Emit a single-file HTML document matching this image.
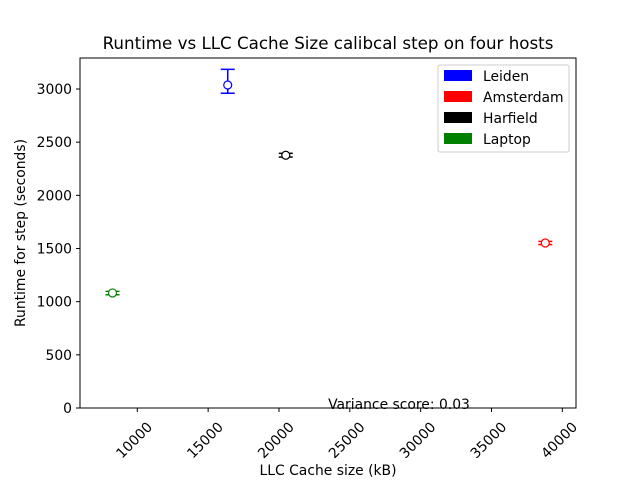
<!DOCTYPE html>
<html><head><meta charset="utf-8"><style>
body{margin:0;background:#fff}
svg{display:block;font-family:"DejaVu Sans","Liberation Sans",sans-serif}
</style></head><body>
<svg id="chart" width="640" height="480" viewBox="0 0 640 480">
<rect width="640" height="480" fill="#fff"/>
<text x="328" y="49" font-size="16.7" text-anchor="middle">Runtime vs LLC Cache Size calibcal step on four hosts</text>
<g id="ticks"></g>
<g id="marks"></g>
<rect x="80" y="58" width="496" height="350" fill="none" stroke="#000" stroke-width="1"/>
<text x="399" y="409" font-size="13.9" text-anchor="middle">Variance score: 0.03</text>
<text x="328" y="475" font-size="13.9" text-anchor="middle">LLC Cache size (kB)</text>
<text transform="translate(25,233) rotate(-90)" font-size="13.9" text-anchor="middle">Runtime for step (seconds)</text>
<g>
<rect x="438" y="65" width="131" height="87" fill="#fff" stroke="#ccc" rx="2"/>
<g id="legend"></g>
</g>
</svg>
<script>
const hosts=["Leiden","Amsterdam","Harfield","Laptop"];
const colors=["#0000ff","#ff0000","#000000","#008000"];
const cacheKB=[16384,38800,20480,8250];
const runtime=[3038,1552,2377,1082];
const errLow=[2960,1537,2360,1065];
const errHigh=[3185,1567,2395,1097];
const xTicks=[10000,15000,20000,25000,30000,35000,40000];
const yTicks=[0,500,1000,1500,2000,2500,3000];
const X=v=>137.3+(v-10000)*425/30000;
const Y=v=>408-v*0.10633;
const NS="http://www.w3.org/2000/svg";
function mk(t,a,p){const e=document.createElementNS(NS,t);for(const k in a)e.setAttribute(k,a[k]);p.appendChild(e);return e;}
const tg=document.getElementById('ticks');
xTicks.forEach(v=>{
 const l=mk('line',{x1:X(v),x2:X(v),y1:408,y2:412,stroke:'#000'},tg);
 
 
 const ax=X(v)+9,ay=421;
 const t=mk('text',{x:ax,y:ay,'font-size':13.9,'text-anchor':'end',transform:`rotate(-45 ${ax} ${ay})`,dy:'0.7em'},tg);
 t.textContent=v;
 
 
});
yTicks.forEach(v=>{
 const l=mk('line',{x1:76,x2:80,y1:Y(v),y2:Y(v),stroke:'#000'},tg);
 
 
 const t=mk('text',{x:72,y:Y(v)+5,'font-size':13.9,'text-anchor':'end'},tg);
 t.textContent=v;
 
 
});
const mg=document.getElementById('marks');
hosts.forEach((h,i)=>{
 const g=mk('g',{},mg);
 
 
 const x=X(cacheKB[i]),c=colors[i];
 mk('line',{x1:x,x2:x,y1:Y(errHigh[i]),y2:Y(errLow[i]),stroke:c,'stroke-width':1.5},g);
 mk('line',{x1:x-7,x2:x+7,y1:Y(errHigh[i]),y2:Y(errHigh[i]),stroke:c,'stroke-width':1.5},g);
 mk('line',{x1:x-7,x2:x+7,y1:Y(errLow[i]),y2:Y(errLow[i]),stroke:c,'stroke-width':1.5},g);
 mk('circle',{cx:x,cy:Y(runtime[i]),r:4,fill:'#fff',stroke:c,'stroke-width':1.2},g);
});
const lg=document.getElementById('legend');
hosts.forEach((h,i)=>{
 const y=70+i*21;
 const r=mk('rect',{x:444,y:y,width:28,height:11,fill:colors[i]},lg);
 
 
 const t=mk('text',{x:483,y:y+11,'font-size':13.9},lg);
 t.textContent=h;
 
 
});
</script>
</body></html>
